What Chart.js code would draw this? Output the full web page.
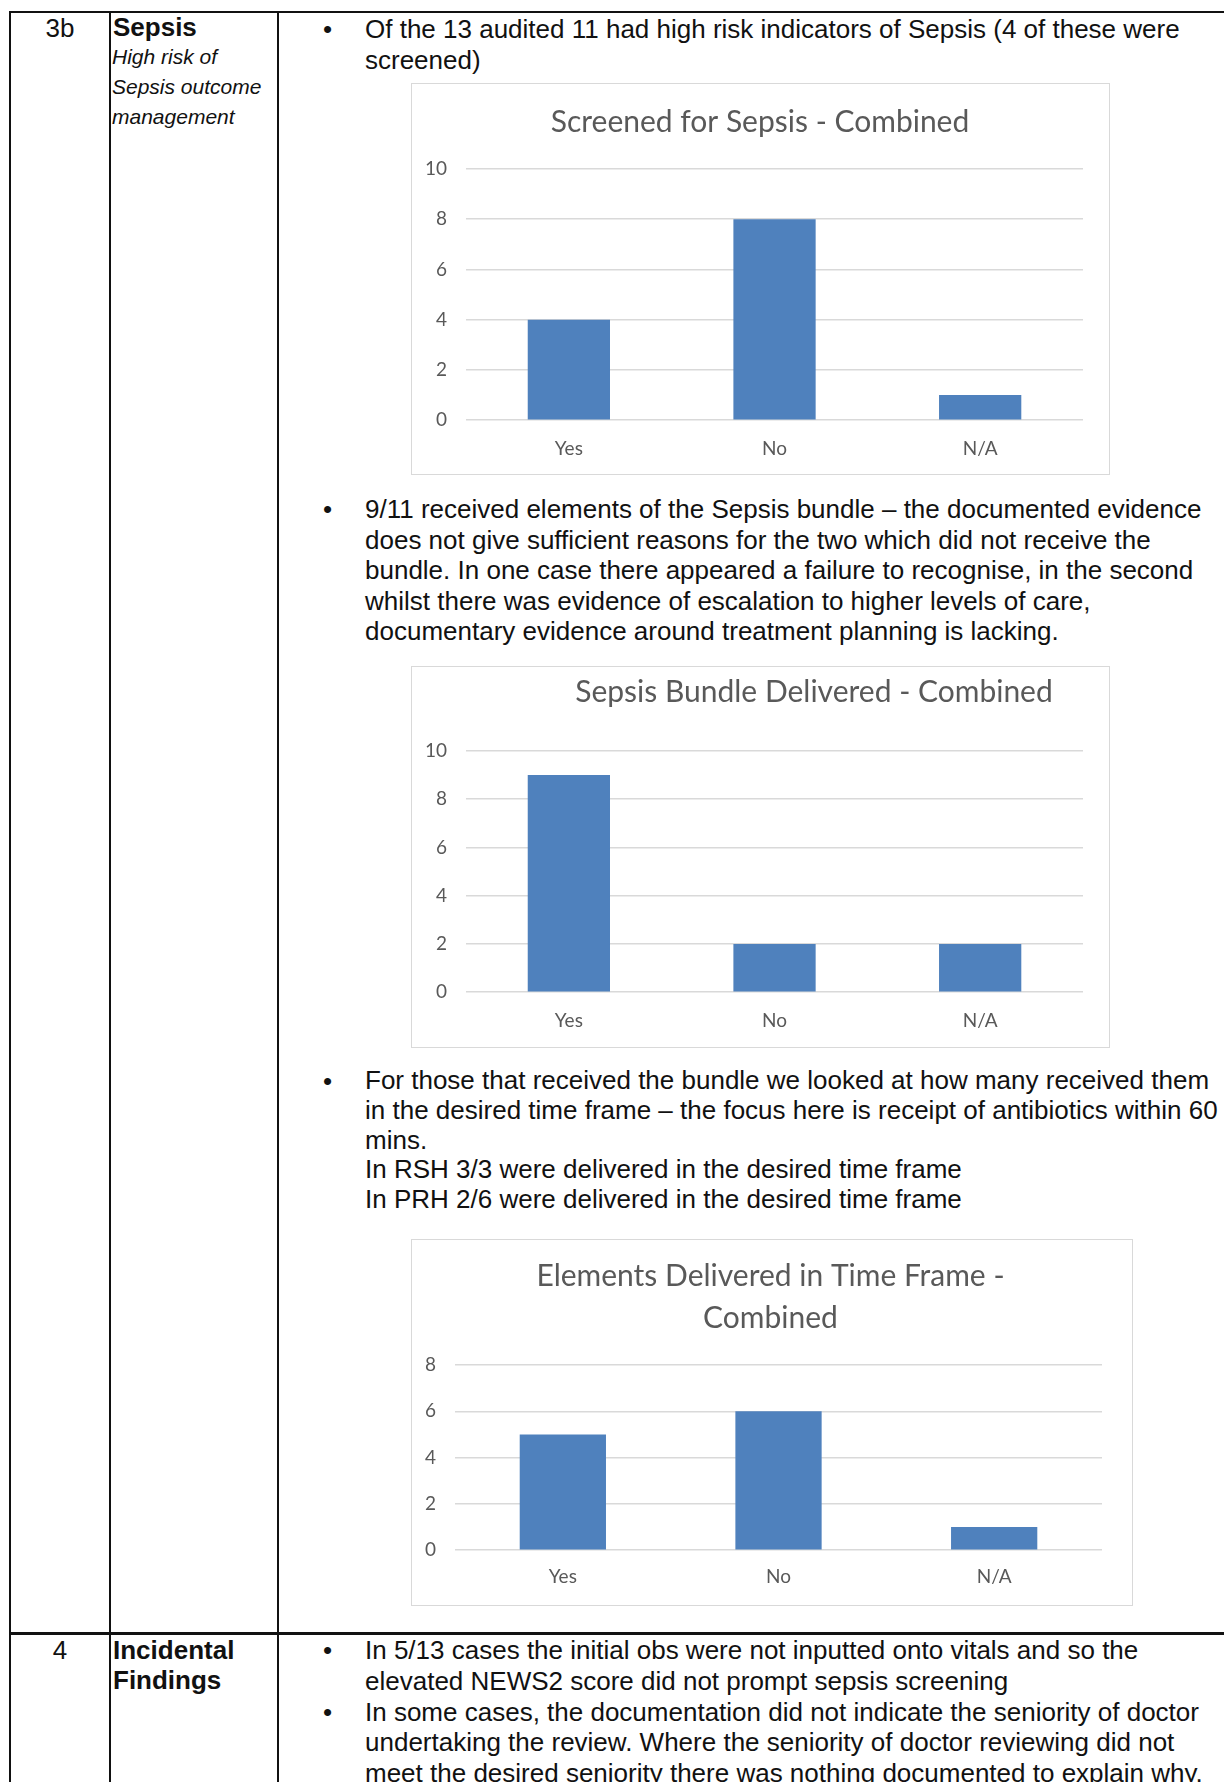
<!DOCTYPE html>
<html>
<head>
<meta charset="utf-8">
<script src="https://cdn.jsdelivr.net/npm/chart.js@4.4.0/dist/chart.umd.min.js"></script>
<style>
  html, body { margin: 0; padding: 0; background: #fff; }
  body { width: 1224px; height: 1782px; position: relative; overflow: hidden;
         font-family: "Liberation Sans", Arial, sans-serif; color: #111; }
  .line { position: absolute; background: #111; }
  .txt { position: absolute; white-space: nowrap; font-size: 26px; line-height: 30.5px; }
  .bul { position: absolute; font-size: 26px; line-height: 30.5px; }
  .box { position: absolute; border: 1px solid #d9d9d9; background: #fff; }
  .box canvas { display: block; }
</style>
</head>
<body>

<!-- table rules -->
<div class="line" style="left:9px; top:11px; width:1215px; height:2px;"></div>
<div class="line" style="left:9px; top:11px; width:2px; height:1771px;"></div>
<div class="line" style="left:109px; top:11px; width:2px; height:1771px;"></div>
<div class="line" style="left:277px; top:11px; width:2px; height:1771px;"></div>
<div class="line" style="left:9px; top:1632px; width:1215px; height:3px;"></div>

<!-- row 3b -->
<div class="txt" style="left:11px; width:98px; top:13px; text-align:center;">3b</div>
<div class="txt" style="left:113px; top:12px; font-weight:bold;">Sepsis</div>
<div class="txt" style="left:112px; top:42px; font-size:21px; line-height:30px; font-style:italic;">High risk of<br>Sepsis outcome<br>management</div>

<div class="bul" style="left:323px; top:14px;">&bull;</div>
<div class="txt" style="left:365px; top:14px;">Of the 13 audited 11 had high risk indicators of Sepsis (4 of these were<br>screened)</div>

<div class="box" style="left:411px; top:83px;"><canvas id="chartScreened" width="697" height="390"></canvas></div>

<div class="bul" style="left:323px; top:494px;">&bull;</div>
<div class="txt" style="left:365px; top:494px;">9/11 received elements of the Sepsis bundle &ndash; the documented evidence<br>does not give sufficient reasons for the two which did not receive the<br>bundle. In one case there appeared a failure to recognise, in the second<br>whilst there was evidence of escalation to higher levels of care,<br>documentary evidence around treatment planning is lacking.</div>

<div class="box" style="left:411px; top:666px;"><canvas id="chartBundle" width="697" height="380"></canvas></div>

<div class="bul" style="left:323px; top:1066px;">&bull;</div>
<div class="txt" style="left:365px; top:1066px; line-height:29.8px;">For those that received the bundle we looked at how many received them<br>in the desired time frame &ndash; the focus here is receipt of antibiotics within 60<br>mins.<br>In RSH 3/3 were delivered in the desired time frame<br>In PRH 2/6 were delivered in the desired time frame</div>

<div class="box" style="left:411px; top:1239px;"><canvas id="chartTimeFrame" width="720" height="365"></canvas></div>

<!-- row 4 -->
<div class="txt" style="left:11px; width:98px; top:1635px; text-align:center;">4</div>
<div class="txt" style="left:113px; top:1635px; line-height:30px; font-weight:bold;">Incidental<br>Findings</div>

<div class="bul" style="left:323px; top:1635px;">&bull;</div>
<div class="bul" style="left:323px; top:1697px;">&bull;</div>
<div class="txt" style="left:365px; top:1635px; line-height:30.8px;">In 5/13 cases the initial obs were not inputted onto vitals and so the<br>elevated NEWS2 score did not prompt sepsis screening<br>In some cases, the documentation did not indicate the seniority of doctor<br>undertaking the review. Where the seniority of doctor reviewing did not<br>meet the desired seniority there was nothing documented to explain why.</div>

<script>
// Data for the charts
const categories = ['Yes', 'No', 'N/A'];
const screenedValues = [4, 8, 1];
const bundleValues = [9, 2, 2];
const timeFrameValues = [5, 6, 1];
const screenedTicks = [0, 2, 4, 6, 8, 10];
const bundleTicks = [0, 2, 4, 6, 8, 10];
const timeFrameTicks = [0, 2, 4, 6, 8];

const barColor = '#4F81BD';
const textColor = '#595959';
const gridColor = '#d9d9d9';

// nudges the title sideways (Excel placed one of them off-centre)
const shiftTitle = {
    id: 'shiftTitle',
    afterLayout(chart, args, opts) {
        const t = chart.titleBlock;
        if (t && opts.dx) {
            t.left += opts.dx;
            t.right += opts.dx;
        }
    }
};

function makeChart(id, title, values, ticks, s) {
    const ctx = document.getElementById(id).getContext('2d');
    return new Chart(ctx, {
        type: 'bar',
        data: {
            labels: categories,
            datasets: [{
                data: values,
                backgroundColor: barColor,
                borderWidth: 0,
                categoryPercentage: 1,
                barPercentage: 0.4
            }]
        },
        options: {
            responsive: false,
            animation: false,
            layout: { padding: s.pad },
            plugins: {
                legend: { display: false },
                tooltip: { enabled: false },
                title: {
                    display: true,
                    text: title,
                    color: textColor,
                    font: { family: 'Lato', size: 30, weight: 'normal', lineHeight: s.titleLH || 1.2 },
                    padding: s.titlePad
                },
                shiftTitle: { dx: s.dx || 0 }
            },
            scales: {
                x: {
                    grid: { display: false, drawTicks: false },
                    border: { display: false },
                    ticks: { color: textColor, font: { family: 'Lato', size: 19 }, padding: s.xPad },
                    // chart.js reserves the tick padding twice, drop the extra
                    afterFit: (scale) => { scale.height -= s.xPad; }
                },
                y: {
                    min: ticks[0],
                    max: ticks[ticks.length - 1],
                    grid: { color: gridColor, lineWidth: 1.5, drawTicks: false },
                    border: { display: false },
                    ticks: { stepSize: ticks[1] - ticks[0], color: textColor, font: { family: 'Lato', size: 19 }, padding: s.yPad },
                    afterFit: (scale) => { scale.width -= s.yPad; }
                }
            }
        },
        plugins: [shiftTitle]
    });
}

makeChart('chartScreened', 'Screened for Sepsis - Combined', screenedValues, screenedTicks, {
    pad: { left: 13, right: 26, bottom: 14, top: 0 },
    titlePad: { top: 20, bottom: 29 },
    xPad: 17, yPad: 19, dx: 6
});

makeChart('chartBundle', 'Sepsis Bundle Delivered - Combined', bundleValues, bundleTicks, {
    pad: { left: 13, right: 26, bottom: 15, top: 0 },
    titlePad: { top: 7, bottom: 41 },
    xPad: 17, yPad: 19, dx: 60
});

makeChart('chartTimeFrame', ['Elements Delivered in Time Frame -', 'Combined'], timeFrameValues, timeFrameTicks, {
    pad: { left: 13, right: 30, bottom: 17, top: 0 },
    titlePad: { top: 15, bottom: 26 },
    titleLH: 1.4,
    xPad: 15, yPad: 19, dx: 7
});
</script>
</body>
</html>
